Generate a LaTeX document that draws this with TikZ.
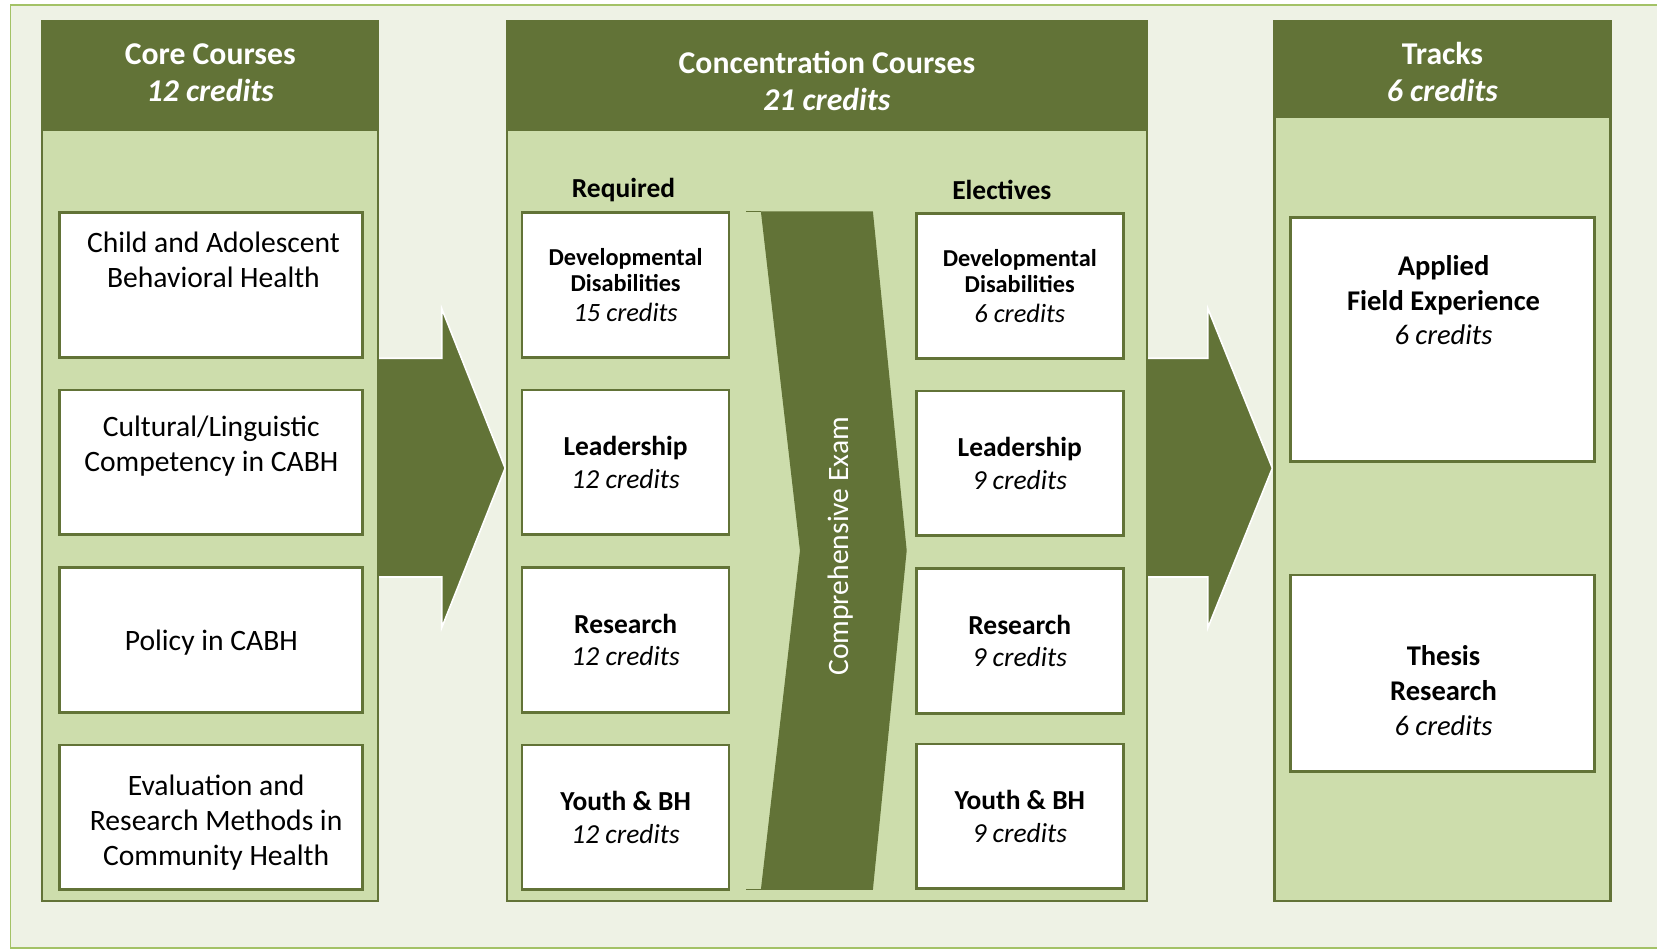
\documentclass[tikz,border=0pt]{standalone}
\usepackage{fontspec}
\setmainfont{Carlito}
\definecolor{olivedark}{HTML}{627337}
\definecolor{olivelight}{HTML}{CDDDAC}
\definecolor{olivepale}{HTML}{EEF2E5}
\definecolor{oliveline}{HTML}{A3C266}
\newcommand{\crd}[1]{{\mdseries\itshape #1 credits}}
\tikzset{
  panel/.style={fill=olivelight, draw=olivedark, line width=2pt},
  headtext/.style={text=white, align=center, inner sep=0pt, font=\fontsize{30}{35}\selectfont\bfseries},
  corebox/.style={draw=olivedark, fill=white, line width=2.5pt, minimum width=287pt, minimum height=137pt, inner sep=0pt},
  midbox/.style={corebox, minimum width=196pt, align=center, font=\fontsize{26}{31}\selectfont\bfseries},
  trackbox/.style={corebox, minimum width=288pt},
  coretext/.style={align=center, inner sep=0pt, font=\fontsize{28}{33}\selectfont},
  tracktext/.style={align=center, inner sep=0pt, font=\fontsize{27}{33}\selectfont\bfseries},
  sublabel/.style={inner sep=0pt, font=\fontsize{26}{31}\selectfont\bfseries},
  bigarrow/.style={fill=olivedark, draw=white, line width=1.5pt}
}
\begin{document}
\begin{tikzpicture}[x=1pt,y=-1pt]
	\useasboundingbox (0,0) rectangle (1568,899);
	
	% background
	\fill[olivepale] (10,5) rectangle (1568,897);
	\draw[oliveline, line width=1.5pt] (1568,5) -- (10,5) -- (10,897) -- (1568,897);
	
	% block arrows between the columns
	\draw[bigarrow] (355,339) -- (418,339) -- (418,292) -- (478,443) -- (418,594) -- (418,546) -- (355,546) -- cycle;
	\draw[bigarrow] (1082,339) -- (1143,339) -- (1143,292) -- (1204,443) -- (1143,594) -- (1143,546) -- (1082,546) -- cycle;
	
	% core column
	\draw[panel] (40,20) rectangle (358,853);
	\fill[olivedark] (40,20) rectangle (358,124);
	\node[headtext] (corehead) at (199,68.5) {Core Courses\\\textit{12 credits}};
	
	\node[corebox] (core1) at (199.5,269.5) {};
	\node[coretext] (core1t) at ([shift={(2.5,-24)}]core1.center) {Child and Adolescent\\Behavioral Health};
	\node[corebox] (core2) at (199.5,437.5) {};
	\node[coretext] (core2t) at ([shift={(0.5,-15)}]core2.center) {Cultural/Linguistic\\Competency in CABH};
	\node[corebox] (core3) at (199.5,605.5) {};
	\node[coretext] (core3t) at ([shift={(0.5,2.5)}]core3.center) {Policy in CABH};
	\node[corebox] (core4) at (199.5,773.5) {};
	\node[coretext] (core4t) at ([shift={(5,5)}]core4.center) {Evaluation and\\Research Methods in\\Community Health};
	
	% concentration column
	\draw[panel] (480,20) rectangle (1085,853);
	\fill[olivedark] (480,20) rectangle (1085,124);
	\node[headtext] (conchead) at (782.5,76.5) {Concentration Courses\\\textit{21 credits}};
	
	\node[sublabel] (reqlabel) at (590,180) {Required};
	\node[sublabel] (elclabel) at (948,180) {Electives};
	
	\node[midbox, font=\fontsize{23}{25}\selectfont\bfseries] (req1) at (592,269.5) {Developmental\\Disabilities\\[3pt]{\fontsize{25}{25}\selectfont\crd{15}}};
	\node[midbox] (req2) at (592,437.5) {Leadership\\\crd{12}};
	\node[midbox] (req3) at (592,605.5) {Research\\\crd{12}};
	\node[midbox] (req4) at (592,773.5) {Youth \& BH\\\crd{12}};
	
	\node[midbox, font=\fontsize{23}{25}\selectfont\bfseries] (elc1) at (965,270.5) {Developmental\\Disabilities\\[3pt]{\fontsize{25}{25}\selectfont\crd{6}}};
	\node[midbox] (elc2) at (965,438.5) {Leadership\\\crd{9}};
	\node[midbox] (elc3) at (965,606.5) {Research\\\crd{9}};
	\node[midbox] (elc4) at (965,772.5) {Youth \& BH\\\crd{9}};
	
	% exam chevron
	\fill[olivedark] (720,200) -- (826,200) -- (858,521) -- (826,842) -- (720,842) -- (757,521) -- cycle;
	\draw[olivedark, line width=1pt] (706,200) -- (720,200);
	\draw[olivedark, line width=1pt] (706,842) -- (720,842);
	\node[rotate=90, text=white, inner sep=0pt, font=\fontsize{28}{33}\selectfont] (exam) at (795,517) {Comprehensive Exam};
	
	% tracks column
	\draw[panel] (1206,20) rectangle (1524,853);
	\fill[olivedark] (1206,20) rectangle (1524,112);
	\node[headtext] (trackhead) at (1365,68.5) {Tracks\\\textit{6 credits}};
	
	\node[trackbox, minimum height=231pt] (track1) at (1365,321.5) {};
	\node[tracktext] (track1t) at ([shift={(1,-37.5)}]track1.center) {Applied\\Field Experience\\\crd{6}};
	\node[trackbox, minimum height=186pt] (track2) at (1365,637) {};
	\node[tracktext] (track2t) at ([shift={(1,16.5)}]track2.center) {Thesis\\Research\\\crd{6}};
\end{tikzpicture}
\end{document}
